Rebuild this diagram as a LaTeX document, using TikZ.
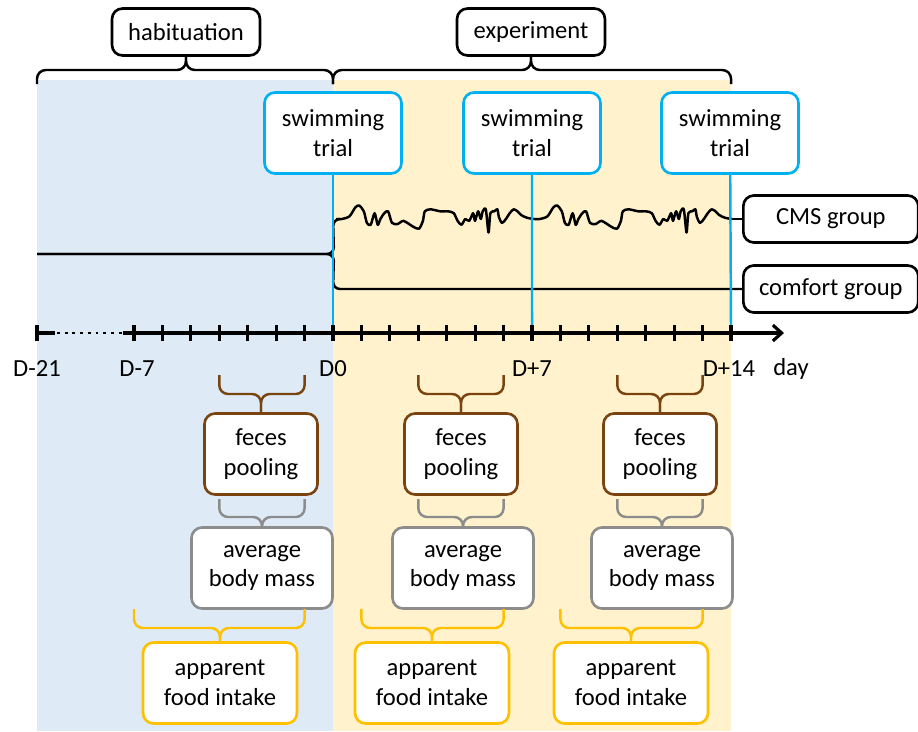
\documentclass[tikz,border=0pt]{standalone}
\usepackage{fontspec}
\setmainfont{Carlito}
\usetikzlibrary{arrows.meta}
\definecolor{habfill}{HTML}{DEEBF7}
\definecolor{expfill}{HTML}{FFF2CC}
\definecolor{swimcol}{HTML}{00B0F0}
\definecolor{fecescol}{HTML}{7A4411}
\definecolor{masscol}{HTML}{8C8C8C}
\definecolor{foodcol}{HTML}{FFC000}

% brace from two day ticks down to a box: style, left day, right day, top y, mid y, box
\newcommand{\spanbrace}[6]{%
  \draw[#1, rounded corners=5pt] (#2 |- 0,#4) -- (#2 |- 0,#5) -- (#6.north |- 0,#5) -- (#6.north);
  \draw[#1, rounded corners=5pt] (#3 |- 0,#4) -- (#3 |- 0,#5) -- (#6.north |- 0,#5) -- (#6.north);}

\begin{document}
\begin{tikzpicture}[x=0.02cm, y=-0.02cm, line join=round,
  every node/.style={font=\fontsize{14}{17}\selectfont},
  box/.style={draw, rounded corners=6pt, fill=white, line width=1.5pt, align=center, inner sep=2pt},
  phasebox/.style={box, minimum width=2.96cm, minimum height=0.94cm},
  swimbox/.style={box, draw=swimcol, minimum width=2.74cm, minimum height=1.62cm},
  grpbox/.style={box, minimum width=3.5cm, minimum height=0.94cm},
  fecesbox/.style={box, draw=fecescol, minimum width=2.26cm, minimum height=1.62cm},
  massbox/.style={box, draw=masscol, minimum width=2.82cm, minimum height=1.62cm},
  foodbox/.style={box, draw=foodcol, minimum width=3.08cm, minimum height=1.62cm},
  phasebrace/.style={line width=1.4pt},
  fecesbrace/.style={draw=fecescol, line width=1.4pt},
  massbrace/.style={draw=masscol, line width=1.4pt},
  foodbrace/.style={draw=foodcol, line width=1.4pt},
  trialline/.style={draw=swimcol, line width=1.4pt},
  grpline/.style={line width=1.4pt},
  axis/.style={line width=1.8pt},
  daylbl/.style={inner sep=0pt}]
  \useasboundingbox (0,0) rectangle (918,731);

  % day positions on the axis
  \coordinate (d-21) at (37,333);
  \foreach \d in {-7,...,14} \coordinate (d\d) at ({333+28.43*\d},333);

  % phases
  \fill[habfill] (d-21 |- 0,80) rectangle (d0 |- 0,731);
  \fill[expfill] (d0 |- 0,80) rectangle (d14 |- 0,731);
  \node[phasebox] (hab) at (186,32) {habituation};
  \node[phasebox] (expt) at (531,32) {experiment};
  \draw[phasebrace, rounded corners=5pt] (d-21 |- 0,84) -- (d-21 |- 0,70) -- (hab.south |- 0,70) -- (hab.south);
  \draw[phasebrace, rounded corners=5pt] (d0 |- 0,84) -- (d0 |- 0,70) -- (hab.south |- 0,70) -- (hab.south);
  \draw[phasebrace, rounded corners=5pt] (d0 |- 0,84) -- (d0 |- 0,70) -- (expt.south |- 0,70) -- (expt.south);
  \draw[phasebrace, rounded corners=5pt] (d14 |- 0,84) -- (d14 |- 0,70) -- (expt.south |- 0,70) -- (expt.south);

  % groups
  \node[grpbox, anchor=west] (cms) at (742,219) {CMS group};
  \node[grpbox, anchor=west] (comfort) at (742,289) {comfort group};
  \coordinate (split) at (334,254);
  \draw[grpline, rounded corners=4pt] (d-21 |- 0,254) -- (split) -- (d0 |- 0,219) -- (338,219);
  \draw[grpline, rounded corners=4pt] (d-21 |- 0,254) -- (split) -- (d0 |- 0,289) -- (comfort.west);
  \foreach \sx in {336,534}
    \draw[grpline, shift={(\sx,219)}] plot[smooth, tension=0.45] coordinates {
      (0,0) (5.8,0) (13.5,-2.7) (19.3,-11.6) (23.2,-13.5) (27.8,-7.7) (30.9,3.9)
      (34.7,5.8) (38.6,-5.8) (41.7,5.8) (44.4,0) (48.3,-5.8) (52.1,-7.7) (56,3.9)
      (61.8,5) (67.6,1.9) (77.2,7.7) (83,9.7) (86.9,1.9) (88.8,-7.7) (94.6,-9.7)
      (104.2,-7.7) (112,-7.7) (117.8,-5.8) (121.6,1.9) (125.5,5.8) (129.3,0)
      (133.2,1.9) (137.1,-5.8) (139,1.9) (142.1,-7.7) (144.8,0) (146.7,-7.7)
      (149.8,-9.7) (152.5,13.5) (154.4,-5.8) (158.3,-7.7) (161.4,-9.7) (162.9,-1.9)
      (166,3.9) (169.9,0) (173.7,-5.8) (177.6,-9.7) (181.5,-7.7) (185.3,-3.9)
      (191.1,-1.2) (198,0)};
  \draw[grpline] (732,219) -- (cms.west);

  % swimming trials
  \node[swimbox] (swim0) at (333,133) {swimming\\trial};
  \node[swimbox] (swim7) at (532,133) {swimming\\trial};
  \node[swimbox] (swim14) at (730,133) {swimming\\trial};
  \draw[trialline] (swim0) -- (d0);
  \draw[trialline] (swim7) -- (d7);
  \draw[trialline] (swim14) -- (d14);

  % time axis
  \draw[axis] (d-21) -- (55,333);
  \draw[axis, line width=1.6pt, dash pattern=on 1.6pt off 2.8pt] (57,333) -- (123,333);
  \draw[axis, -{Straight Barb[length=5pt,width=9pt]}] (123,333) -- (784,333);
  \draw[axis] (d-21) ++(0,-8) -- ++(0,16);
  \foreach \d in {-7,...,14} \draw[axis] (d\d) ++(0,-8) -- ++(0,16);
  \node[daylbl] (l-21) at (37,369) {D-21};
  \node[daylbl] (l-7) at (137,369) {D-7};
  \node[daylbl] (l0) at (333,369) {D0};
  \node[daylbl] (l7) at (532,369) {D+7};
  \node[daylbl] (l14) at (729,369) {D+14};
  \node[daylbl] (lday) at (791,369) {day};

  % sampling windows
  \node[fecesbox] (fec1) at (261,454) {feces\\pooling};
  \node[fecesbox] (fec2) at (461,454) {feces\\pooling};
  \node[fecesbox] (fec3) at (660,454) {feces\\pooling};
  \node[massbox] (avg1) at (262,568) {average\\body mass};
  \node[massbox] (avg2) at (463,568) {average\\body mass};
  \node[massbox] (avg3) at (662,568) {average\\body mass};
  \node[foodbox] (food1) at (220,683) {apparent\\food intake};
  \node[foodbox] (food2) at (432,683) {apparent\\food intake};
  \node[foodbox] (food3) at (631,683) {apparent\\food intake};

  \spanbrace{fecesbrace}{d-4}{d-1}{375}{394}{fec1}
  \spanbrace{fecesbrace}{d3}{d6}{375}{394}{fec2}
  \spanbrace{fecesbrace}{d10}{d13}{375}{394}{fec3}
  \spanbrace{massbrace}{d-4}{d-1}{499}{517}{avg1}
  \spanbrace{massbrace}{d3}{d6}{499}{517}{avg2}
  \spanbrace{massbrace}{d10}{d13}{499}{517}{avg3}
  \spanbrace{foodbrace}{d-7}{d-1}{609}{628}{food1}
  \spanbrace{foodbrace}{d1}{d6}{609}{628}{food2}
  \spanbrace{foodbrace}{d8}{d13}{609}{628}{food3}
\end{tikzpicture}
\end{document}
